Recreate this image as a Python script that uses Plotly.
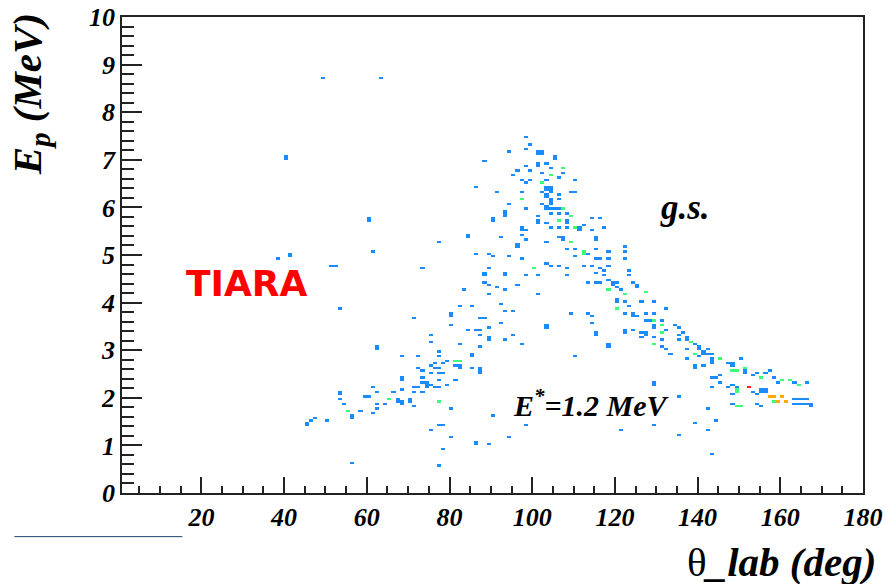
import numpy as np
import plotly.graph_objects as go

# ---- data: occupied (theta_lab [deg], E_p [MeV]) cells and their counts ----
THETA = [
    40, 40, 49, 63, 38.9, 41.3, 41.3, 51.5, 52.5, 53,
    60, 60, 61.9, 62, 62, 53.9, 53.9, 53, 54.8, 55.2,
    56, 56, 58, 45.1, 45.1, 46.7, 47.7, 50.4, 56.7,
    59.6, 60.5, 61.1, 61.9, 62.5, 62.5, 62.9, 64.9, 65.7, 66.5,
    68.1, 67.7, 67.7, 68.8, 68.8, 70.1, 70.1, 71.7, 68.3, 68.3,
    71.3, 72.4, 73.6, 74.6, 74.6, 75.4, 76.3, 77.4, 79.8, 74.4,
    73.6, 71.7, 77.4, 73.8, 77.4, 81.6, 72, 72.8, 73.8, 75.4,
    76.2, 77.4, 77, 75.5, 78.6, 68.3, 72.8, 77.3, 77.5, 76.5,
    78.6, 81, 82.6, 81.6, 79.4, 85.9, 85.9, 82.9, 82.9, 85.4,
    87.9, 87, 87, 75.5, 75.5, 82.6, 87, 87.3, 89.9, 89.9,
    93.3, 95.3, 97.9, 84.1, 86.1, 87.3, 89.9, 80, 92.3, 80.8,
    80.8, 71.2, 87, 88.9, 93.2, 95.3, 82.6, 85.4, 92.3, 89.1,
    83.6, 93.3, 91.7, 88, 89, 96.1, 88.9, 88.9, 93.3, 93.3,
    98.7, 101.4, 108.6, 73.6, 89.9, 100.6, 77.3, 84.5, 84.5, 92.3,
    86.1, 89.9, 90.7, 94.1, 97.1, 80, 78.2, 77.4, 75.5, 80.8,
    90.7, 98.6, 94.1, 86.2, 86.2, 89.7, 78.3, 77.3,
    98.7, 99.5, 98.7, 101.1, 101.1, 102, 102, 94.3, 105.8, 105.8,
    88.9, 101.4, 101.4, 103.3, 98.7, 104.2, 107.7, 107.8, 99.4, 102.4,
    96.2, 95.3, 104.1, 106, 97.9, 98.9, 99.7, 103.3, 102.4, 110.3,
    86.1, 103.6, 104.4, 103.6, 104.4, 102.8, 104.8, 97.9, 109.2, 110.2,
    91.6, 97.9, 103.4, 103.4, 104.8, 106.8, 106.8, 104.6, 104.6, 94.3,
    102.8, 103.2, 103.2, 98.3, 104, 105.8, 106.8, 107.8, 93.3, 93.3,
    104.2, 106.8, 101.6, 90.7, 90.7, 93.5, 108.6, 101.4, 101.4, 103.3,
    106.8, 108, 108, 109.6, 104.2, 97, 97, 98.7, 106.8, 108.6,
    110.4, 111.2, 111.2, 106, 107.6, 107.6, 97.1, 98.7, 103.3, 109.6,
    96.2, 96.7, 108.6, 110.4, 103.2, 104, 106.8, 108.6, 110, 101.4,
    103.3, 103.3, 109.6, 110.4,
    117.4, 115.7, 115.7, 114.9, 114.1, 116.1, 112, 112, 112, 113.2,
    115.7, 115.3, 116.1, 118.1, 118.1, 122.1, 122.1, 122.1, 118.5, 117.7,
    116.1, 115.7, 114.1, 112, 113.2, 115.2, 116.1, 117.7, 118.1, 119.7,
    120.5, 119.7, 123.7, 123.3, 124.5, 125.3, 118.5, 120.5, 121.3, 122.9,
    127.3, 125.3, 120.3, 120.3, 122.1, 126.5, 120.3, 123.7, 129.4, 124.7,
    125.3, 124.7, 127.7, 129.4, 132.6, 122.9, 127.7, 128.4, 129.9, 131,
    131, 131, 134.2, 135.4, 136.6, 129.4, 129.4, 127, 127, 124.5,
    122.9, 132.2, 135, 135.8, 138, 129.4, 131.4, 137, 137, 137.4,
    131, 129.4, 132.2, 133.5, 137.4, 140.2, 141, 142.2, 143.9, 140.6,
    143.1, 139.8, 143.1, 143.9, 145.3, 147.1, 148.7, 150.7, 139.4, 141,
    139, 143.9, 145.1, 145.1, 148.7, 149.9, 151.5, 151.5, 151.9, 153.5,
    154.3, 156.3, 157.1, 155.9, 158.4, 159.2, 162, 164, 163.2, 166.4,
    147.9, 149.5, 148.3, 149.1, 149.9, 148.7, 150.3, 152.7, 153.5, 154.3,
    155.1, 156, 156.8, 155.1, 156, 154.3, 157.6, 158.4, 159.6, 161.2,
    163.6, 164.8, 163.2, 164.8, 167.2, 167.2, 166, 160, 144.7, 143.5,
    148.3, 149.5, 158.8, 160, 164, 165.6, 163.2, 165.2, 166.8, 149.1,
    155.1, 135.8, 142.7, 144.3, 139, 142.7, 135.4, 129.2, 121.1, 129.4,
    129.4, 118.5, 118.5, 122.1, 124.5, 126.5, 126.9, 115.7, 115.7, 113.6,
    114.9, 114, 139, 140.6, 141.8, 142.7, 143, 148.3, 143.5,
]
EP = [
    7.05, 7.0, 8.7, 8.7, 4.9, 5.0, 4.95, 4.78, 4.78, 3.87,
    5.79, 5.74, 5.08, 3.08, 3.03, 2.13, 2.08, 1.98, 1.87, 1.74,
    1.59, 1.64, 1.73, 1.48, 1.43, 1.53, 1.59, 1.53, 0.6,
    2.03, 2.03, 1.68, 2.2, 2.1, 1.85, 1.76, 1.85, 1.99, 2.13,
    2.15, 1.96, 1.91, 1.92, 1.87, 1.94, 1.99, 1.83, 2.39, 2.44,
    2.24, 2.24, 2.31, 2.27, 2.31, 2.29, 2.24, 2.24, 2.27, 2.2,
    2.13, 2.11, 1.92, 2.43, 2.38, 2.39, 2.62, 2.62, 2.59, 2.66,
    2.62, 2.62, 2.52, 2.5, 2.52, 2.89, 2.89, 2.99, 2.85, 2.73,
    2.73, 2.78, 2.78, 2.69, 2.76, 2.85, 2.9, 2.62, 2.67, 2.64,
    2.64, 2.59, 2.54, 3.34, 3.18, 3.13, 3.08, 3.34, 3.29, 3.24,
    3.24, 3.34, 3.13, 3.44, 3.44, 3.44, 3.48, 3.53, 3.59, 3.74,
    3.79, 3.69, 3.69, 3.69, 3.8, 3.8, 3.94, 3.94, 3.99, 4.15,
    4.28, 4.29, 4.34, 4.44, 4.39, 4.39, 4.55, 4.6, 4.55, 4.6,
    4.55, 4.55, 4.55, 4.73, 4.73, 4.73, 5.29, 5.35, 5.4, 5.35,
    5.04, 5.04, 4.95, 4.99, 4.9, 1.75, 1.43, 1.4, 1.33, 1.19,
    1.64, 1.43, 1.19, 1.08, 1.01, 1.03, 0.94, 0.59,
    7.45, 7.33, 7.23, 7.17, 7.12, 7.17, 7.12, 7.18, 7.06, 7.01,
    6.99, 6.94, 6.89, 6.94, 6.89, 6.83, 6.84, 6.73, 6.78, 6.73,
    6.78, 6.68, 6.68, 6.64, 6.59, 6.54, 6.59, 6.59, 6.53, 6.59,
    6.43, 6.4, 6.4, 6.35, 6.35, 6.33, 6.3, 6.33, 6.33, 6.33,
    6.31, 6.19, 6.26, 6.21, 6.19, 6.29, 6.19, 6.14, 6.09, 6.08,
    6.08, 6.03, 5.98, 5.98, 5.98, 5.98, 5.98, 5.98, 5.93, 5.88,
    5.87, 5.87, 5.84, 5.79, 5.74, 5.84, 5.87, 5.71, 5.66, 5.68,
    5.73, 5.7, 5.65, 5.84, 5.59, 5.58, 5.53, 5.52, 5.56, 5.56,
    5.59, 5.56, 5.51, 5.39, 5.37, 5.32, 5.42, 5.3, 5.28, 5.26,
    5.19, 5.23, 5.14, 5.14, 4.81, 4.78, 4.78, 4.74, 4.97, 4.15,
    3.53, 3.48, 3.79, 2.89,
    5.58, 5.35, 5.3, 5.53, 5.76, 5.76, 5.61, 5.0, 5.05, 5.04,
    5.14, 4.9, 4.9, 5.05, 4.9, 5.17, 5.09, 4.9, 4.77, 4.69,
    4.7, 4.62, 4.76, 4.76, 4.44, 4.42, 4.41, 4.55, 4.46, 4.44,
    4.41, 4.39, 4.65, 4.55, 4.42, 4.35, 4.27, 4.3, 4.27, 4.16,
    4.2, 4.3, 4.0, 4.05, 4.02, 4.0, 3.88, 3.92, 4.02, 3.78,
    3.74, 3.74, 3.79, 3.79, 3.88, 3.78, 3.64, 3.6, 3.64, 3.6,
    3.39, 3.53, 3.53, 3.46, 3.36, 3.51, 3.46, 3.39, 3.34, 3.43,
    3.37, 3.43, 3.32, 3.22, 3.18, 3.25, 3.22, 3.2, 3.25, 3.01,
    3.09, 3.13, 3.01, 2.9, 2.83, 3.08, 2.97, 3.01, 2.94, 2.87,
    2.83, 2.9, 2.73, 2.73, 2.83, 2.73, 2.66, 2.83, 2.67, 2.66,
    2.62, 2.41, 2.45, 2.34, 2.59, 2.59, 2.62, 2.57, 2.52, 2.48,
    2.52, 2.52, 2.55, 2.41, 2.41, 2.34, 2.38, 2.28, 2.31, 2.31,
    2.24, 2.24, 2.06, 2.13, 2.1, 1.85, 1.83, 2.2, 2.13, 2.06,
    2.17, 2.1, 2.13, 2.12, 2.15, 1.85, 2.03, 1.92, 1.92, 1.92,
    1.99, 1.97, 1.85, 1.85, 1.85, 1.8, 1.85, 2.38, 2.41, 2.22,
    2.27, 2.17, 2.03, 2.03, 1.87, 1.87, 1.97, 1.97, 1.97, 1.83,
    1.83, 2.03, 1.78, 1.54, 1.48, 1.34, 1.22, 1.43, 1.34, 2.27,
    2.32, 3.08, 3.13, 3.44, 3.44, 3.39, 3.29, 3.39, 3.34, 3.78,
    3.74, 3.58, 3.11, 3.04, 2.94, 2.9, 2.76, 2.73, 0.84,
]
COUNT = [
    1, 1, 1, 1, 1, 1, 1, 1, 1, 1,
    1, 1, 1, 1, 1, 1, 1, 1, 1, 2,
    1, 1, 1, 1, 1, 1, 1, 1, 1,
    1, 1, 1, 1, 1, 1, 1, 1, 2, 1,
    1, 1, 1, 1, 1, 1, 1, 1, 1, 1,
    1, 1, 1, 1, 1, 1, 1, 1, 1, 1,
    1, 1, 2, 1, 1, 1, 1, 1, 1, 1,
    1, 1, 1, 1, 1, 1, 1, 1, 1, 1,
    1, 2, 2, 1, 1, 1, 1, 1, 1, 1,
    1, 1, 1, 1, 1, 1, 1, 1, 1, 1,
    1, 1, 1, 1, 1, 1, 1, 1, 1, 1,
    1, 1, 1, 1, 1, 1, 1, 1, 1, 1,
    1, 1, 1, 1, 1, 1, 1, 1, 1, 1,
    1, 1, 1, 1, 1, 2, 1, 1, 1, 1,
    1, 1, 1, 1, 1, 1, 1, 1, 1, 1,
    1, 1, 1, 1, 1, 1, 1, 1,
    1, 1, 1, 1, 1, 1, 1, 1, 1, 1,
    1, 1, 1, 1, 1, 1, 2, 1, 1, 1,
    1, 1, 2, 1, 1, 1, 1, 1, 2, 1,
    1, 1, 1, 1, 1, 1, 1, 1, 1, 1,
    1, 2, 1, 1, 1, 1, 1, 1, 1, 1,
    1, 1, 1, 1, 1, 1, 1, 2, 1, 1,
    1, 1, 1, 1, 1, 1, 1, 1, 1, 1,
    2, 1, 1, 2, 1, 1, 1, 1, 1, 1,
    2, 1, 1, 1, 1, 1, 1, 1, 1, 2,
    1, 1, 1, 1, 1, 1, 1, 1, 1, 1,
    1, 1, 1, 1,
    1, 1, 1, 1, 1, 1, 1, 2, 2, 1,
    1, 1, 1, 1, 1, 1, 1, 1, 1, 1,
    1, 1, 1, 1, 1, 1, 1, 1, 1, 1,
    1, 1, 1, 1, 1, 1, 2, 1, 1, 2,
    2, 1, 1, 1, 1, 1, 2, 1, 1, 1,
    1, 1, 1, 1, 1, 1, 1, 1, 2, 1,
    2, 2, 1, 1, 1, 1, 1, 1, 1, 1,
    1, 1, 1, 1, 2, 1, 1, 1, 1, 1,
    1, 2, 1, 1, 1, 1, 1, 1, 1, 1,
    1, 2, 1, 1, 2, 1, 1, 1, 1, 1,
    1, 1, 1, 1, 2, 2, 2, 1, 1, 1,
    1, 1, 1, 2, 1, 1, 2, 2, 1, 1,
    1, 1, 1, 2, 1, 1, 2, 4, 1, 1,
    1, 1, 1, 1, 1, 1, 3, 2, 3, 3,
    1, 1, 1, 1, 1, 1, 1, 2, 1, 1,
    1, 2, 3, 3, 1, 1, 1, 1, 1, 2,
    1, 1, 1, 1, 1, 1, 1, 1, 1, 1,
    1, 1, 1, 1, 1, 1, 1, 1, 1, 1,
    1, 1, 1, 1, 1, 1, 1, 1, 1,
]

X_TICKS = [20, 40, 60, 80, 100, 120, 140, 160, 180]
Y_TICKS = [0, 1, 2, 3, 4, 5, 6, 7, 8, 9, 10]
X_TITLE = "θ<b><i>_lab (deg)</i></b>"
Y_TITLE = "<b><i>E<sub>p</sub> (MeV)</i></b>"

# ---- build the 2D histogram (1 deg x 0.05 MeV bins) ----
NX, NY, DY = 180, 200, 0.05
z = np.full((NY, NX), np.nan)
for t, e, c in zip(THETA, EP, COUNT):
    i = int(np.floor(t))
    j = int(np.floor(e / DY + 1e-9))
    if 0 <= i < NX and 0 <= j < NY:
        z[j, i] = c if np.isnan(z[j, i]) else max(z[j, i], c)
zl = [[None if np.isnan(v) else float(v) for v in row] for row in z]
xc = np.arange(NX) + 0.5
yc = np.arange(NY) * DY + DY / 2

BLUE, GREEN, ORANGE, RED = "#1a8cff", "#3cff78", "#ffaa00", "#ff2020"
cs = [[0, BLUE], [0.25, BLUE], [0.25, GREEN], [0.5, GREEN],
      [0.5, ORANGE], [0.75, ORANGE], [0.75, RED], [1, RED]]

fig = go.Figure(go.Heatmap(x=xc, y=yc, z=zl, zmin=0.5, zmax=4.5,
                           colorscale=cs, showscale=False, hoverongaps=False))

tickfont = dict(family="Liberation Serif", size=26, color="black",
                weight="bold", style="italic")
AX = "#222222"
fig.update_xaxes(range=[0.8, 180], tickmode="array", tickvals=X_TICKS,
                 ticks="inside", ticklen=16, tickwidth=1.5, tickcolor=AX,
                 minor=dict(dtick=5, tick0=0, ticks="inside", ticklen=7,
                            tickwidth=1.5, tickcolor=AX),
                 showline=True, linecolor=AX, linewidth=1.5, mirror=True,
                 showgrid=False, zeroline=False, tickfont=tickfont,
                 automargin=False)
fig.update_yaxes(range=[0, 10], tickmode="array", tickvals=Y_TICKS,
                 ticks="inside", ticklen=20, tickwidth=1.5, tickcolor=AX,
                 minor=dict(dtick=0.2, tick0=0, ticks="inside", ticklen=12,
                            tickwidth=1.5, tickcolor=AX),
                 showline=True, linecolor=AX, linewidth=1.5, mirror=True,
                 showgrid=False, zeroline=False, tickfont=tickfont,
                 automargin=False)

serif = dict(family="Liberation Serif", color="black")
fig.add_annotation(x=31.1, y=4.41, text="<b>TIARA</b>", showarrow=False,
                   font=dict(family="DejaVu Sans", size=36, color="#ff0000"))
fig.add_annotation(x=137, y=6.0, text="<b><i>g.s.</i></b>", showarrow=False,
                   font=dict(size=35, **serif))
fig.add_annotation(x=94.8, y=1.9, xanchor="left",
                   text="<b><i>E<sup>*</sup>=1.2 MeV</i></b>", showarrow=False,
                   font=dict(size=30, **serif))
fig.add_annotation(xref="paper", yref="paper", x=-0.124, y=0.838,
                   text=Y_TITLE, textangle=-90, showarrow=False,
                   xanchor="center", yanchor="middle",
                   font=dict(size=41, **serif))
fig.add_annotation(xref="paper", yref="paper", x=1.0207, y=-0.144,
                   text=X_TITLE, showarrow=False, xanchor="right",
                   yanchor="middle", font=dict(size=41, **serif))
fig.add_shape(type="line", xref="paper", yref="paper",
              x0=-0.1453, x1=0.0814, y0=-0.0917, y1=-0.0917,
              line=dict(color="#1f3f6f", width=1))

fig.update_layout(width=885, height=584, plot_bgcolor="white",
                  paper_bgcolor="white",
                  margin=dict(l=122, r=22, t=17, b=91, autoexpand=False),
                  showlegend=False)
fig.write_html("out.html", config={"displayModeBar": False},
               post_script="document.body.style.margin='0';"
                           "document.body.style.overflow='hidden';")
